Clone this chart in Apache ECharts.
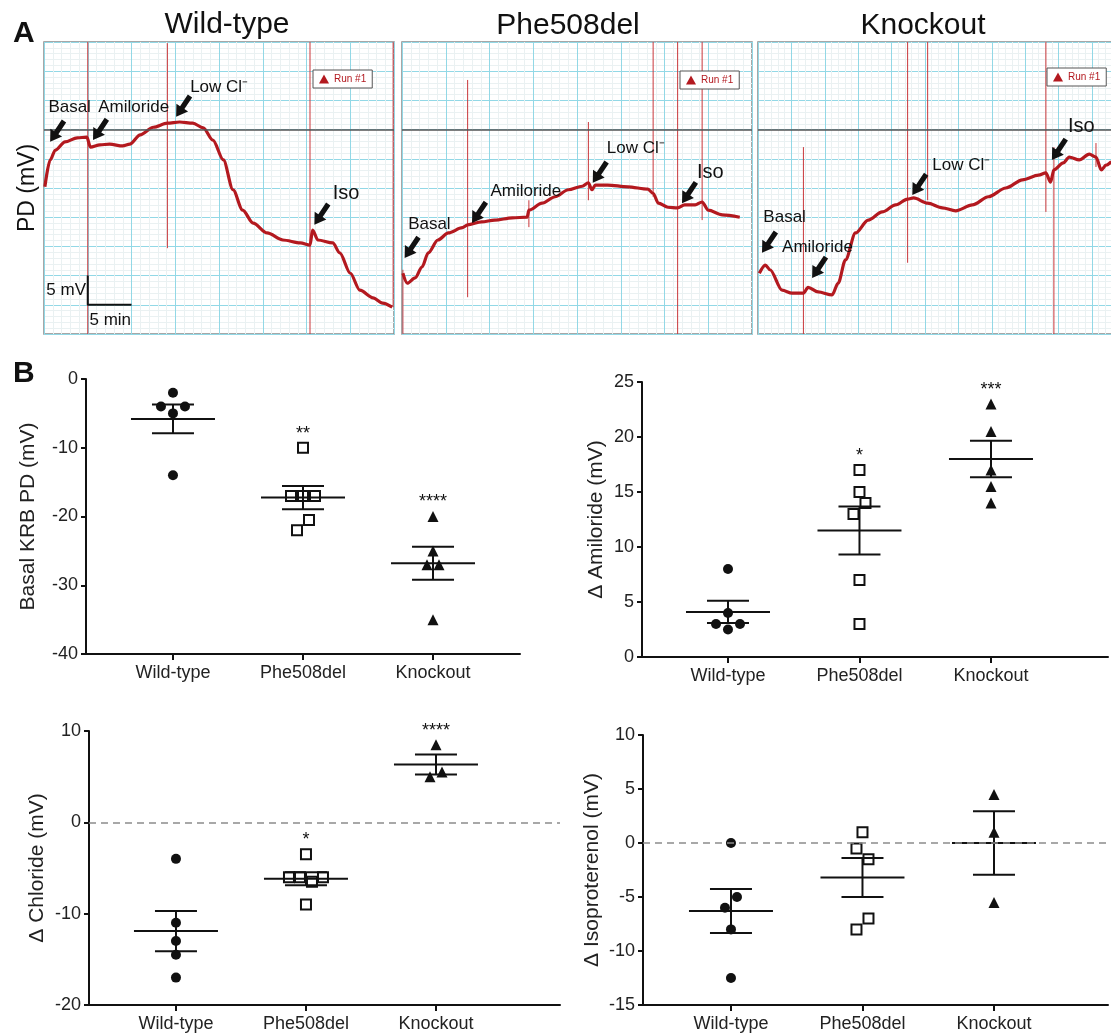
<!DOCTYPE html>
<html lang="en">
  <head>
    <meta charset="UTF-8" />
    <title>Nasal PD traces and summary</title>
    <script src="https://cdn.jsdelivr.net/npm/echarts@6.0.0/dist/echarts.min.js"></script>
    <style>
      html, body { margin: 0; padding: 0; background: #fff; }
      #main { width: 1111px; height: 1036px; }
    </style>
  </head>
  <body>
    <div id="main"></div>

    <script>
      const FONT = '"Liberation Sans", Arial, Helvetica, sans-serif';
      const RED = '#b3191f';
      const SPIKE = '#c9373b';
      const INK = '#111';
      const MAJOR = '#92d8e6';
      const MINOR = '#eaf1f2';

      // ---- A: PD traces (x in min, y in mV) ----
      const wtTrace = [[0.1,-9.8],[0.7,-5.2],[1.3,-3.5],[2.4,-2.1],[3.8,-1.4],[4.9,-1.3],[5.3,-3.0],[6.4,-2.6],[7.5,-2.5],[9.0,-2.8],[9.8,-2.5],[11.0,-0.9],[12.5,0.4],[14.1,1.1],[15.5,1.3],[17.0,1.1],[18.2,0.3],[19.3,-1.8],[20.5,-5.2],[21.6,-10.3],[22.7,-13.8],[23.9,-16.0],[25.5,-17.7],[27.3,-18.9],[29.3,-19.4],[30.4,-19.8],[30.7,-17.2],[31.3,-18.9],[33.0,-19.4],[33.8,-21.1],[35.0,-24.6],[36.1,-27.5],[37.6,-28.8],[38.7,-29.7],[39.8,-30.4]];
      const pheTrace = [[0.1,-24.6],[0.6,-26.3],[1.5,-25.4],[2.3,-23.5],[3.0,-21.1],[4.1,-18.9],[5.3,-17.7],[6.9,-16.8],[7.5,-16.3],[9.1,-15.8],[10.6,-15.5],[12.6,-15.1],[14.3,-15.0],[14.5,-13.8],[16.0,-12.6],[17.5,-11.5],[19.0,-10.3],[20.6,-9.7],[21.3,-9.1],[21.7,-10.3],[22.1,-9.5],[23.5,-9.5],[25.8,-9.8],[28.1,-10.2],[28.7,-10.9],[29.3,-12.6],[30.4,-13.3],[31.5,-13.4],[32.3,-12.9],[33.5,-12.9],[34.3,-12.4],[35.0,-13.8],[36.6,-14.6],[38.6,-15.0]];
      const koTrace = [[0.2,-24.6],[1.1,-23.2],[1.8,-24.0],[3.6,-27.5],[5.1,-28.0],[6.8,-28.0],[7.5,-27.0],[9.0,-27.8],[11.1,-28.3],[12.0,-26.3],[13.1,-22.3],[14.6,-17.7],[16.5,-15.5],[18.6,-14.1],[20.6,-12.9],[22.4,-11.9],[23.3,-11.7],[25.4,-12.6],[27.6,-13.4],[29.6,-13.9],[32.1,-12.9],[34.5,-11.5],[37.1,-10.0],[39.6,-8.6],[42.0,-7.8],[43.1,-7.4],[43.8,-9.0],[44.3,-6.9],[45.7,-5.7],[46.6,-4.7],[48.1,-5.2],[49.6,-4.2],[50.6,-4.7],[51.4,-6.9],[52.1,-6.1],[52.9,-5.5]];

      // artefact spikes: [time, top, bottom]
      const wtSpikes = [[5.0,20,-40],[14.1,14.8,-20.3],[30.4,20,-40],[39.9,20,-30.4]];
      const pheSpikes = [[0.1,-24,-40],[7.5,8.5,-28.7],[14.5,-12.1,-16.7],[21.3,1.3,-12.1],[28.7,20,-11.5],[31.5,20,-40],[34.3,20,-15.5]];
      const koSpikes = [[6.8,-3.0,-40],[22.4,20,-22.8],[25.4,20,-12.1],[43.1,20,-14.1],[44.3,-3.0,-40],[50.6,-2.3,-6.4]];

      // [label, arrow tip t, tip mV, label t, label mV]
      const wtNotes = [['Basal',0.7,-2.1,0.5,3.9],['Amiloride',5.6,-1.8,6.2,3.9],['Low Cl⁻',15.1,2.2,16.7,7.3],['Iso',30.9,-16.3,33.0,-10.9]];
      const pheNotes = [['Basal',0.3,-22.0,0.7,-16.3],['Amiloride',8.0,-16.0,10.1,-10.5],['Low Cl⁻',21.8,-9.1,23.4,-3.2],['Iso',32.0,-12.6,33.7,-7.4]];
      const koNotes = [['Basal',0.6,-21.1,0.8,-15.0],['Amiloride',8.1,-25.4,3.6,-20.1],['Low Cl⁻',23.1,-11.2,26.1,-6.2],['Iso',44.0,-5.2,46.4,0.6]];

      const scaleBar = [[5,-25],[5,-30],[10,-30]];
      const scaleNotes = [['5 mV',4.8,-27.6,'right'],['5 min',5.2,-32.6,'left']];

      // ---- B: summary values per group ----
      const groups = ['Wild-type', 'Phe508del', 'Knockout'];
      const basalWT = [-2, -4, -4, -5, -14];
      const basalPhe = [-10, -17, -17, -17, -20.5, -22];
      const basalKO = [-20, -25, -27, -27, -35];
      const amilWT = [8, 4, 3, 3, 2.5];
      const amilPhe = [17, 15, 14, 13, 7, 3];
      const amilKO = [23, 20.5, 17, 15.5, 14];
      const chlorWT = [-4, -11, -13, -14.5, -17];
      const chlorPhe = [-3.5, -6, -6, -6.5, -6, -9];
      const chlorKO = [8.5, 5.5, 5];
      const isoWT = [0, -5, -6, -8, -12.5];
      const isoPhe = [1, -0.5, -1.5, -7, -8];
      const isoKO = [4.5, 1, -5.5];

      const basalStars = ['', '**', '****'];
      const amilStars = ['', '*', '***'];
      const chlorStars = ['', '*', '****'];
      const isoStars = ['', '', ''];

      // horizontal spread of overlapping points, px
      const basalJit = [[0,-12,12,0,0], [0,-12,0,12,6,-6], [0,0,-6,6,0]];
      const amilJit = [[0,0,-12,12,0], [0,0,6,-6,0,0], [0,0,0,0,0]];
      const chlorJit = [[0,0,0,0,0], [0,-17,-6,6,17,0], [0,6,-6]];
      const isoJit = [[0,6,-6,0,0], [0,-6,6,6,-6], [0,0,0]];

      const marks = [
        { symbol: 'circle', symbolSize: 10, itemStyle: { color: INK, opacity: 1 } },
        { symbol: 'rect', symbolSize: 10, itemStyle: { color: '#fff', borderColor: INK, borderWidth: 2, opacity: 1 } },
        { symbol: 'triangle', symbolSize: 11, itemStyle: { color: INK, opacity: 1 } },
      ];

      const grids = [
        { left: 44, top: 42, width: 350, height: 292 },
        { left: 402, top: 42, width: 350, height: 292 },
        { left: 758, top: 42, width: 354, height: 292 },
        { left: 86, top: 379, width: 434, height: 275 },
        { left: 642, top: 382, width: 466, height: 275 },
        { left: 89, top: 731, width: 471, height: 274 },
        { left: 643, top: 735, width: 465, height: 270 },
      ].map((g, i) => Object.assign({ outerBoundsMode: 'none', containLabel: false }, g,
        i < 3 ? { show: true, borderColor: '#8a8a8a', borderWidth: 1.5, backgroundColor: '#fff' } : {}));

      const xAxes = [];
      const yAxes = [];
      const series = [];

      function traceAxes(gi, xMax, yName) {
        const grid = {
          splitLine: { show: true, lineStyle: { color: MAJOR, width: 1 } },
          minorTick: { show: false, splitNumber: 5 },
          minorSplitLine: { show: true, lineStyle: { color: MINOR, width: 1 } },
          axisLine: { show: false }, axisTick: { show: false }, axisLabel: { show: false },
        };
        xAxes.push(Object.assign({ type: 'value', gridIndex: gi, min: 0, max: xMax, interval: 5 }, grid));
        yAxes.push(Object.assign({
          type: 'value', gridIndex: gi, min: -35, max: 15, interval: 5,
          name: yName, nameLocation: 'middle', nameGap: 5,
          nameTextStyle: { fontSize: 23, color: INK, fontFamily: FONT },
        }, grid));
      }

      function noteRenderer(notes) {
        return function (params, api) {
          const n = notes[params.dataIndex];
          const tip = api.coord([n[1], n[2]]);
          const lab = api.coord([n[3], n[4]]);
          const ux = 0.555, uy = -0.832;
          const nx = -uy, ny = ux;
          const L = 25, H = 11, HW = 7, SW = 2.6;
          const bx = tip[0] + ux * H, by = tip[1] + uy * H;
          const tx = tip[0] + ux * L, ty = tip[1] + uy * L;
          const pts = [[tip[0], tip[1]], [bx + nx * HW, by + ny * HW], [bx + nx * SW, by + ny * SW],
            [tx + nx * SW, ty + ny * SW], [tx - nx * SW, ty - ny * SW], [bx - nx * SW, by - ny * SW],
            [bx - nx * HW, by - ny * HW]];
          return {
            type: 'group',
            children: [
              { type: 'polygon', shape: { points: pts }, style: { fill: INK } },
              { type: 'text', x: lab[0], y: lab[1], style: {
                text: n[0], font: (n[0] === 'Iso' ? 20 : 17) + 'px ' + FONT,
                fill: INK, align: 'left', verticalAlign: 'middle' } },
            ],
          };
        };
      }

      function addTrace(gi, trace, spikes, notes) {
        series.push({
          type: 'custom', xAxisIndex: gi, yAxisIndex: gi, clip: true, z: 2,
          data: spikes,
          renderItem: function (params, api) {
            const a = api.coord([api.value(0), api.value(1)]);
            const b = api.coord([api.value(0), api.value(2)]);
            return { type: 'line', shape: { x1: a[0], y1: a[1], x2: b[0], y2: b[1] },
              style: { stroke: SPIKE, lineWidth: 1 } };
          },
          markLine: {
            silent: true, symbol: 'none', label: { show: false },
            lineStyle: { color: '#555', width: 1.5, type: 'solid' },
            data: [{ yAxis: 0 }],
          },
        });
        series.push({
          name: 'Run #1', type: 'line', xAxisIndex: gi, yAxisIndex: gi, z: 3,
          data: trace, showSymbol: false, smooth: 0.3, smoothMonotone: 'x',
          lineStyle: { color: RED, width: 3.2 }, itemStyle: { color: RED },
        });
        series.push({
          type: 'custom', xAxisIndex: gi, yAxisIndex: gi, clip: false, z: 5,
          data: notes.map((n) => n.slice(1)),
          renderItem: noteRenderer(notes),
        });
      }

      traceAxes(0, 40, 'PD (mV)');
      traceAxes(1, 40, '');
      traceAxes(2, 53, '');
      addTrace(0, wtTrace, wtSpikes, wtNotes);
      addTrace(1, pheTrace, pheSpikes, pheNotes);
      addTrace(2, koTrace, koSpikes, koNotes);

      series.push({
        type: 'line', xAxisIndex: 0, yAxisIndex: 0, z: 4, data: scaleBar, showSymbol: false,
        lineStyle: { color: INK, width: 2 },
      });
      series.push({
        type: 'custom', xAxisIndex: 0, yAxisIndex: 0, clip: false, z: 5,
        data: scaleNotes.map((n) => [n[1], n[2]]),
        renderItem: function (params, api) {
          const n = scaleNotes[params.dataIndex];
          const p = api.coord([n[1], n[2]]);
          return { type: 'text', x: p[0], y: p[1], style: {
            text: n[0], font: '17px ' + FONT, fill: INK, align: n[3], verticalAlign: 'middle' } };
        },
      });

      // ---- B ----
      function stats(vals) {
        const n = vals.length;
        const m = vals.reduce((a, b) => a + b, 0) / n;
        const sd = Math.sqrt(vals.reduce((a, b) => a + (b - m) * (b - m), 0) / (n - 1));
        return [m, sd / Math.sqrt(n), Math.max(...vals)];
      }

      function summaryPlot(gi, xRange, yMin, yMax, step, title, gap, sets, jits, stars, zeroLine) {
        const axisStyle = { color: INK, width: 2 };
        xAxes.push({
          type: 'value', gridIndex: gi, min: xRange[0], max: xRange[1],
          axisLine: { show: true, onZero: false, lineStyle: axisStyle },
          axisTick: { show: true, customValues: [0, 1, 2], length: 6, lineStyle: axisStyle },
          axisLabel: { show: true, customValues: [0, 1, 2], formatter: (v) => groups[Math.round(v)],
            fontSize: 18, color: '#222', margin: 10, fontFamily: FONT },
          splitLine: { show: false },
        });
        yAxes.push({
          type: 'value', gridIndex: gi, min: yMin, max: yMax, interval: step,
          name: title, nameLocation: 'middle', nameGap: gap,
          nameTextStyle: { fontSize: 21, color: '#222', fontFamily: FONT },
          axisLine: { show: true, onZero: false, lineStyle: axisStyle },
          axisTick: { show: true, length: 5, lineStyle: axisStyle },
          axisLabel: { show: true, fontSize: 18, color: '#222', margin: 8, fontFamily: FONT },
          splitLine: { show: false },
        });
        sets.forEach((vals, c) => {
          const s = Object.assign({
            type: 'scatter', xAxisIndex: gi, yAxisIndex: gi, z: 3,
            data: vals.map((v, i) => ({ value: [c, v], symbolOffset: [jits[c][i], 0] })),
          }, marks[c]);
          if (zeroLine && c === 0) {
            s.markLine = {
              silent: true, symbol: 'none', label: { show: false },
              lineStyle: { color: '#8c8c8c', width: 1.5, type: [7, 5] },
              data: [{ yAxis: 0 }],
            };
          }
          series.push(s);
        });
        series.push({
          type: 'custom', xAxisIndex: gi, yAxisIndex: gi, z: 4, clip: false,
          data: sets.map((vals, c) => [c].concat(stats(vals))),
          renderItem: function (params, api) {
            const c = api.value(0), m = api.value(1), se = api.value(2), top = api.value(3);
            const pm = api.coord([c, m]);
            const hi = api.coord([c, m + se]);
            const lo = api.coord([c, m - se]);
            const pt = api.coord([c, top]);
            const st = { stroke: INK, lineWidth: 2 };
            const kids = [
              { type: 'line', shape: { x1: pm[0] - 42, y1: pm[1], x2: pm[0] + 42, y2: pm[1] }, style: st },
              { type: 'line', shape: { x1: pm[0], y1: hi[1], x2: pm[0], y2: lo[1] }, style: st },
              { type: 'line', shape: { x1: pm[0] - 21, y1: hi[1], x2: pm[0] + 21, y2: hi[1] }, style: st },
              { type: 'line', shape: { x1: pm[0] - 21, y1: lo[1], x2: pm[0] + 21, y2: lo[1] }, style: st },
            ];
            const star = stars[params.dataIndex];
            if (star) {
              kids.push({ type: 'text', x: pm[0], y: pt[1] - 14, style: {
                text: star, font: '18px ' + FONT, fill: INK, align: 'center', verticalAlign: 'middle' } });
            }
            return { type: 'group', children: kids };
          },
        });
      }

      summaryPlot(3, [-0.669, 2.669], -40, 0, 10, 'Basal KRB PD (mV)', 47,
        [basalWT, basalPhe, basalKO], basalJit, basalStars, false);
      summaryPlot(4, [-0.654, 2.89], 0, 25, 5, 'Δ Amiloride (mV)', 35,
        [amilWT, amilPhe, amilKO], amilJit, amilStars, false);
      summaryPlot(5, [-0.669, 2.954], -20, 10, 10, 'Δ Chloride (mV)', 41,
        [chlorWT, chlorPhe, chlorKO], chlorJit, chlorStars, true);
      summaryPlot(6, [-0.669, 2.867], -15, 10, 5, 'Δ Isoproterenol (mV)', 40,
        [isoWT, isoPhe, isoKO], isoJit, isoStars, true);

      function runLegend(left, top) {
        return {
          left: left, top: top, data: ['Run #1'], icon: 'triangle', selectedMode: false,
          itemWidth: 10, itemHeight: 9, itemGap: 4, padding: [4, 6, 4, 6],
          borderColor: '#555', borderWidth: 1, backgroundColor: '#fff',
          textStyle: { color: RED, fontSize: 10, fontFamily: FONT },
        };
      }

      function heading(text, left, top, size, weight, align) {
        return { text: text, left: left, top: top, textAlign: align,
          textStyle: { fontSize: size, fontWeight: weight, color: INK, fontFamily: FONT } };
      }

      const options = {
        animation: false,
        backgroundColor: '#fff',
        title: [
          heading('A', 8, 14, 30, 'bold', 'left'),
          heading('B', 8, 354, 30, 'bold', 'left'),
          heading('Wild-type', 222, 5, 30, 'normal', 'center'),
          heading('Phe508del', 563, 6, 30, 'normal', 'center'),
          heading('Knockout', 918, 6, 30, 'normal', 'center'),
        ],
        legend: [runLegend(313, 70), runLegend(680, 71), runLegend(1047, 68)],
        grid: grids,
        xAxis: xAxes,
        yAxis: yAxes,
        series: series,
      };

      const myChart = echarts.init(document.getElementById('main'));
      myChart.setOption(options);

      window.onresize = function () {
        myChart.resize();
      };
    </script>
  </body>
</html>
